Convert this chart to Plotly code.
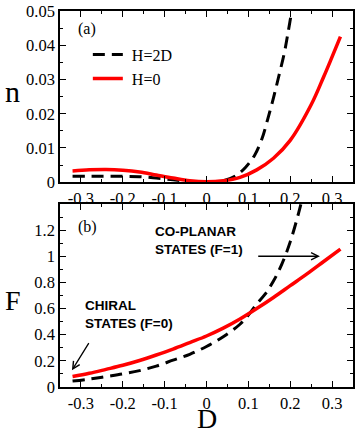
import plotly.graph_objects as go

# ---- data ----
D_n = [-0.32, -0.28, -0.24, -0.2, -0.16, -0.12, -0.08, -0.04, 0.0, 0.04, 0.08, 0.12, 0.16, 0.2, 0.25, 0.28, 0.3, 0.32]
n_H0 = [0.0033, 0.0036, 0.0037, 0.0035, 0.0030, 0.0021, 0.0012, 0.0004, 0.0001, 0.0004, 0.0014, 0.0036, 0.0070, 0.0122, 0.0226, 0.0308, 0.0366, 0.0425]
D_n2 = [-0.32, -0.28, -0.24, -0.2, -0.16, -0.12, -0.08, -0.04, 0.0, 0.04, 0.07, 0.093, 0.115, 0.1325, 0.146, 0.16, 0.1724, 0.186, 0.1957, 0.205, 0.212]
n_H2D = [0.0017, 0.0017, 0.0017, 0.0017, 0.0016, 0.0012, 0.0007, 0.0002, 0.0, 0.0004, 0.0019, 0.0043, 0.0079, 0.0127, 0.0183, 0.0246, 0.0308, 0.0378, 0.0443, 0.051, 0.056]

D_F = [-0.32, -0.28, -0.24, -0.2, -0.16, -0.12, -0.08, -0.04, 0.0, 0.04, 0.08, 0.12, 0.16, 0.2, 0.24, 0.28, 0.32]
F_H0 = [0.08, 0.105, 0.135, 0.166, 0.203, 0.245, 0.29, 0.34, 0.39, 0.45, 0.52, 0.60, 0.685, 0.775, 0.865, 0.96, 1.055]
D_F2 = [-0.32, -0.28, -0.24, -0.2, -0.16, -0.12, -0.08, -0.04, 0.0, 0.04, 0.08, 0.1, 0.12, 0.14, 0.16, 0.18, 0.2, 0.22, 0.235]
F_H2D = [0.045, 0.06, 0.08, 0.10, 0.125, 0.16, 0.205, 0.25, 0.31, 0.385, 0.48, 0.55, 0.635, 0.71, 0.81, 0.94, 1.11, 1.33, 1.52]

x_tickvals = [-0.3, -0.2, -0.1, 0.0, 0.1, 0.2, 0.3]
x_ticktext = ["-0.3", "-0.2", "-0.1", "0", "0.1", "0.2", "0.3"]
n_tickvals = [0, 0.01, 0.02, 0.03, 0.04, 0.05]
n_ticktext = ["0", "0.01", "0.02", "0.03", "0.04", "0.05"]
F_tickvals = [0, 0.2, 0.4, 0.6, 0.8, 1.0, 1.2]
F_ticktext = ["0", "0.2", "0.4", "0.6", "0.8", "1", "1.2"]

RED = "#ff0000"
SERIF = "Liberation Serif, Times New Roman, serif"
SANS = "Liberation Sans, Arial, sans-serif"
DASH = "12px,7px"

fig = go.Figure()
fig.add_trace(go.Scatter(x=D_n2, y=n_H2D, mode="lines", name=" H=2D",
                         line=dict(color="black", width=3, dash=DASH, shape="spline"),
                         xaxis="x", yaxis="y"))
fig.add_trace(go.Scatter(x=D_n, y=n_H0, mode="lines", name=" H=0",
                         line=dict(color=RED, width=3.5, shape="spline"),
                         xaxis="x", yaxis="y"))
fig.add_trace(go.Scatter(x=D_F2, y=F_H2D, mode="lines", showlegend=False,
                         line=dict(color="black", width=3, dash=DASH, shape="spline"),
                         xaxis="x2", yaxis="y2"))
fig.add_trace(go.Scatter(x=D_F, y=F_H0, mode="lines", showlegend=False,
                         line=dict(color=RED, width=3.5, shape="spline"),
                         xaxis="x2", yaxis="y2"))

axis_common = dict(showline=True, linecolor="black", linewidth=1.5, mirror="allticks",
                   ticks="inside", ticklen=6, tickwidth=1.2, tickcolor="black",
                   showgrid=False, zeroline=False, ticklabeloverflow="allow",
                   tickfont=dict(family=SERIF, size=16.5, color="black"))

def minor(d):
    return dict(dtick=d, tick0=0, ticklen=3, tickwidth=1.2, tickcolor="black", ticks="inside")

fig.update_layout(
    width=357, height=430,
    margin=dict(l=60, r=2, t=7, b=43),
    paper_bgcolor="white", plot_bgcolor="white",
    xaxis=dict(domain=[0, 1], range=[-0.35, 0.35], anchor="y",
               tickvals=x_tickvals, ticktext=x_ticktext, minor=minor(0.05), **axis_common),
    yaxis=dict(domain=[0.5447, 1], range=[0, 0.05], anchor="x",
               tickvals=n_tickvals, ticktext=n_ticktext, minor=minor(0.005), **axis_common),
    xaxis2=dict(domain=[0, 1], range=[-0.35, 0.35], anchor="y2",
                tickvals=x_tickvals, ticktext=x_ticktext, minor=minor(0.05), **axis_common),
    yaxis2=dict(domain=[0, 0.4868], range=[0, 1.4], anchor="x2",
                tickvals=F_tickvals, ticktext=F_ticktext, minor=minor(0.1), **axis_common),
    legend=dict(x=0.095, y=0.929, xanchor="left", yanchor="top",
                bgcolor="rgba(0,0,0,0)", borderwidth=0,
                font=dict(family=SERIF, size=16, color="black"),
                tracegroupgap=0),
    showlegend=True,
)

annotations = [
    dict(text="n", x=-0.163, y=0.785, xref="paper", yref="paper", showarrow=False,
         font=dict(family=SERIF, size=30, color="black"), xanchor="center", yanchor="middle"),
    dict(text="F", x=-0.16, y=0.2295, xref="paper", yref="paper", showarrow=False,
         font=dict(family=SERIF, size=28, color="black"), xanchor="center", yanchor="middle"),
    dict(text="D", x=0.5, y=-0.083, xref="paper", yref="paper", showarrow=False,
         font=dict(family=SERIF, size=28, color="black"), xanchor="center", yanchor="middle"),
    dict(text="(a)", x=-0.286, y=0.0448, xref="x", yref="y", showarrow=False,
         font=dict(family=SERIF, size=16, color="black"), xanchor="center", yanchor="middle"),
    dict(text="(b)", x=-0.284, y=1.223, xref="x2", yref="y2", showarrow=False,
         font=dict(family=SERIF, size=16, color="black"), xanchor="center", yanchor="middle"),
    dict(text="<b>CO-PLANAR<br>STATES (F=1)</b>", x=-0.1286, y=1.117, xref="x2", yref="y2",
         showarrow=False, align="left",
         font=dict(family=SANS, size=13.5, color="black"), xanchor="left", yanchor="middle"),
    dict(text="<b>CHIRAL<br>STATES (F=0)</b>", x=-0.295, y=0.551, xref="x2", yref="y2",
         showarrow=False, align="left",
         font=dict(family=SANS, size=13.5, color="black"), xanchor="left", yanchor="middle"),
    dict(text="", x=0.271, y=1.0, ax=0.12, ay=1.0, xref="x2", yref="y2", axref="x2", ayref="y2",
         showarrow=True, arrowhead=5, arrowsize=1.1, arrowwidth=1.3, arrowcolor="black"),
    dict(text="", x=-0.3215, y=0.128, ax=-0.279, ay=0.347, xref="x2", yref="y2", axref="x2", ayref="y2",
         showarrow=True, arrowhead=5, arrowsize=1.1, arrowwidth=1.3, arrowcolor="black"),
]
fig.update_layout(annotations=annotations)

fig.write_html("out.html", config={"displayModeBar": False},
               post_script="document.body.style.margin='0px';")
